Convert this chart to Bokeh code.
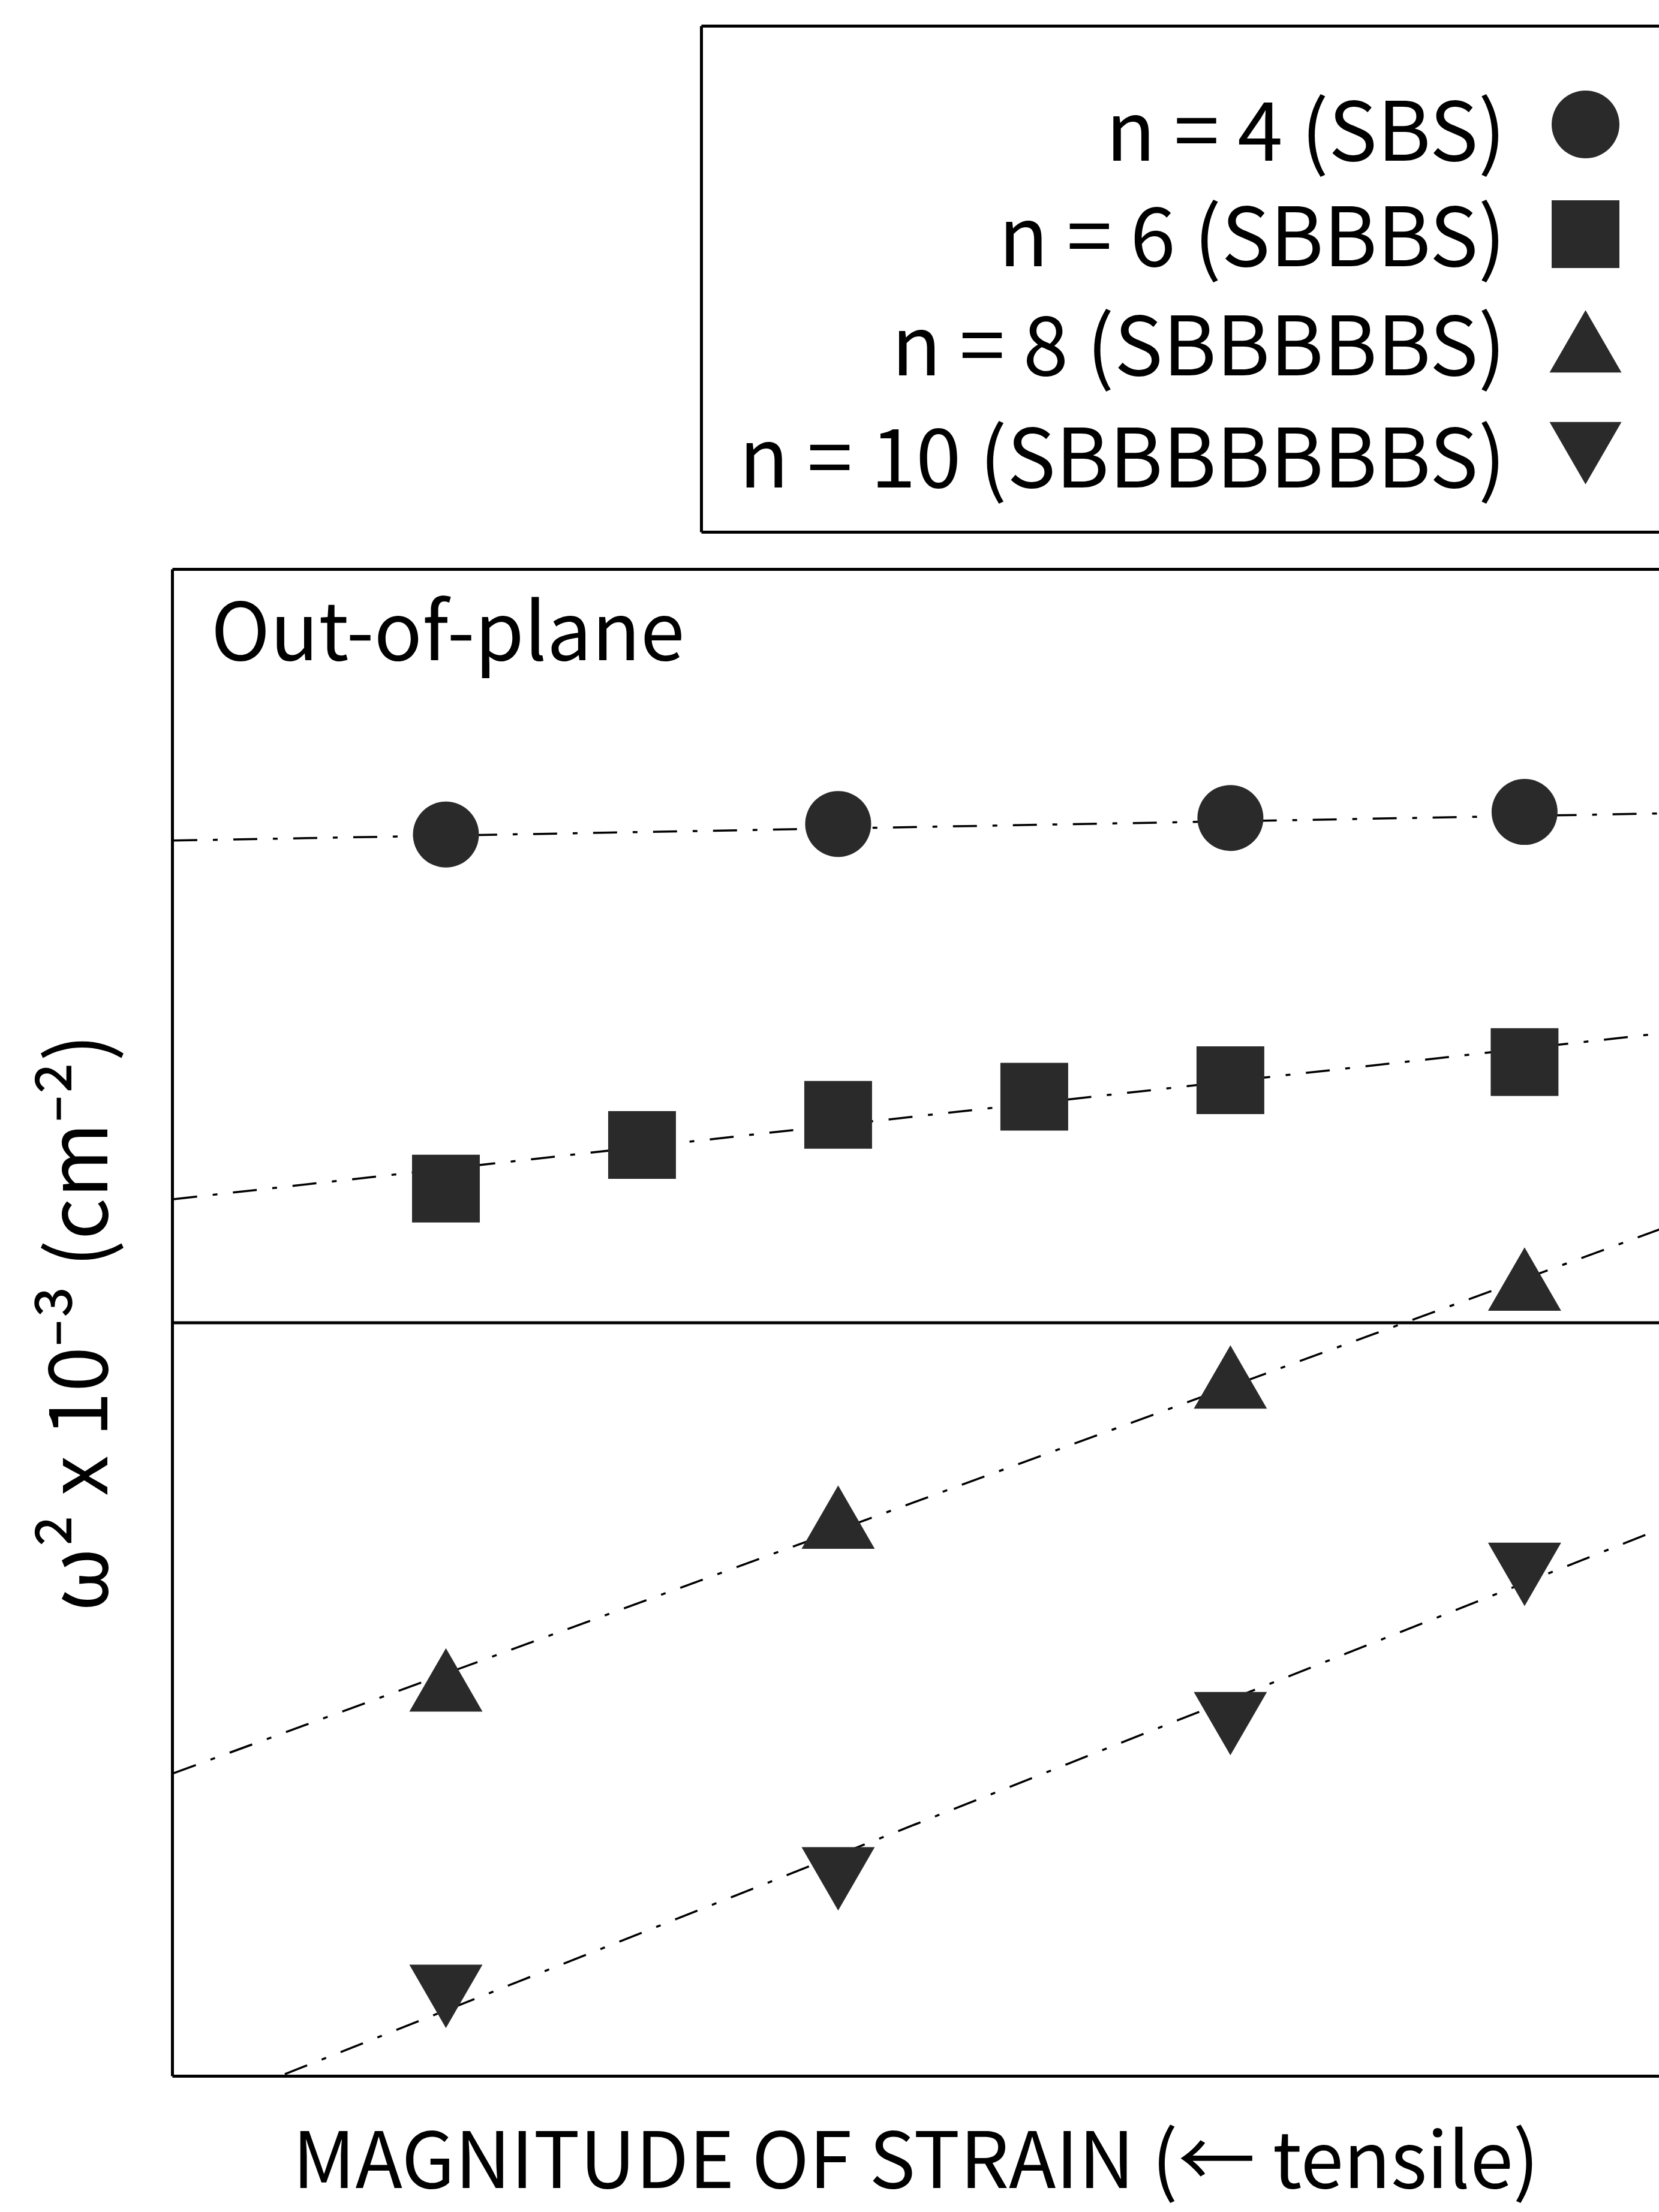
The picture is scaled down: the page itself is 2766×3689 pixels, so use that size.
from bokeh.plotting import figure
from bokeh.models import Range1d, LinearAxis, FixedTicker, Label, Span
from bokeh.layouts import column
from bokeh.embed import file_html
from bokeh.resources import INLINE
from bokeh.core.properties import value

# ---------------- data (arbitrary units) ----------------
strain_n4 = [1.0, 3.0, 5.0, 6.5]
omega2_n4 = [8.24, 8.31, 8.35, 8.39]

strain_n6 = [1.0, 2.0, 3.0, 4.0, 5.0, 6.5]
omega2_n6 = [5.89, 6.18, 6.38, 6.50, 6.61, 6.73]

strain_n8 = [1.0, 3.0, 5.0, 6.5]
omega2_n8 = [2.56, 3.64, 4.57, 5.22]

strain_n10 = [1.0, 3.0, 5.0, 6.5]
omega2_n10 = [0.60, 1.38, 2.41, 3.40]

# dashed fit lines: value at left and right end of the strain axis
fit_x = [-0.39, 7.19]
fit_n4 = [8.20, 8.38]
fit_n6 = [5.82, 6.92]
fit_n8 = [2.01, 5.62]
fit_n10 = [-0.28, 3.63]

reference_level = 5.0

series_labels = ["n = 4 (SBS)", "n = 6 (SBBBS)", "n = 8 (SBBBBBS)", "n = 10 (SBBBBBBBS)"]
series_markers = ["circle", "square", "triangle", "inverted_triangle"]

x_label = "MAGNITUDE OF STRAIN (\u2190 tensile)"
y_label = "\u03c9\u00b2 x 10\u207b\u00b3 (cm\u207b\u00b2)"
panel_label = "Out-of-plane"

# ---------------- styling ----------------
INK = "#000000"
FILL = "#2a2a2a"
FONT = "Noto Sans CJK KR"
DASH = "40 26 8 26"

W = 2766
HA = 900
HB = 3689 - HA
LEFT = 287

# ---------------- legend panel (coordinates = page pixels) ----------------
leg = figure(width=W, height=HA, x_range=Range1d(LEFT, W), y_range=Range1d(HA, 0),
             output_backend="svg", toolbar_location=None,
             min_border_left=LEFT, min_border_right=0, min_border_top=0, min_border_bottom=0,
             x_axis_location=None, y_axis_location=None)
leg.outline_line_color = None
leg.xgrid.visible = False
leg.ygrid.visible = False
leg.background_fill_color = "white"
leg.border_fill_color = "white"

box_l, box_r, box_t, box_b = 1169, 3200, 43, 887
leg.multi_line(xs=[[box_l, box_l], [box_l, box_r], [box_l, box_r]],
               ys=[[box_t, box_b], [box_t, box_t], [box_b, box_b]],
               line_color=INK, line_width=5)

row_base = [208, 384, 566, 753]
leg.text(x=[2510] * 4, y=row_base, text=series_labels,
         text_align="right", text_baseline="alphabetic",
         text_font=value(FONT), text_font_size="136px", text_color=INK)
leg.scatter(x=[2643] * 4, y=[207, 390, 586, 738], marker=series_markers,
            size=[113, 113, 120, 120], fill_color=FILL, line_color=None)

# ---------------- main plot ----------------
p = figure(width=W, height=HB, x_range=Range1d(-0.3945, 7.187), y_range=Range1d(0, 10),
           output_backend="svg", toolbar_location=None,
           min_border_left=LEFT, min_border_right=0, min_border_top=49, min_border_bottom=227)
p.outline_line_color = None
p.xgrid.visible = False
p.ygrid.visible = False
p.background_fill_color = "white"
p.border_fill_color = "white"

top_axis = LinearAxis()
p.add_layout(top_axis, "above")
bottom_axis = p.below[0]
left_axis = p.left[0]

for ax in (top_axis, bottom_axis, left_axis):
    ax.ticker = FixedTicker(ticks=[])
    ax.major_tick_in = 0
    ax.major_tick_out = 0
    ax.minor_tick_in = 0
    ax.minor_tick_out = 0
    ax.major_label_standoff = 0
    ax.major_label_text_font_size = "0px"
    ax.axis_line_color = INK
    ax.axis_line_width = 5

bottom_axis.axis_label = x_label
bottom_axis.axis_label_text_font = FONT
bottom_axis.axis_label_text_font_size = "129px"
bottom_axis.axis_label_text_font_style = "normal"
bottom_axis.axis_label_text_color = INK
bottom_axis.axis_label_standoff = 36

left_axis.axis_label = y_label
left_axis.axis_label_text_font = FONT
left_axis.axis_label_text_font_size = "136px"
left_axis.axis_label_text_font_style = "normal"
left_axis.axis_label_text_color = INK
left_axis.axis_label_standoff = 70

p.add_layout(Span(location=reference_level, dimension="width", line_color=INK, line_width=5))

for fy in (fit_n4, fit_n6, fit_n8, fit_n10):
    p.line(fit_x, fy, line_color=INK, line_width=3.5, line_dash=DASH)

p.scatter(strain_n4, omega2_n4, marker="circle", size=110, fill_color=FILL, line_color=None)
p.scatter(strain_n6, omega2_n6, marker="square", size=113, fill_color=FILL, line_color=None)
p.scatter(strain_n8, omega2_n8, marker="triangle", size=122, fill_color=FILL, line_color=None)
p.scatter(strain_n10, omega2_n10, marker="inverted_triangle", size=122, fill_color=FILL, line_color=None)

p.add_layout(Label(x=-0.198, y=9.626, text=panel_label, text_font=FONT,
                   text_font_size="133px", text_color=INK, text_baseline="alphabetic"))

layout = column(leg, p)
open("out.html", "w").write(file_html(layout, INLINE))
